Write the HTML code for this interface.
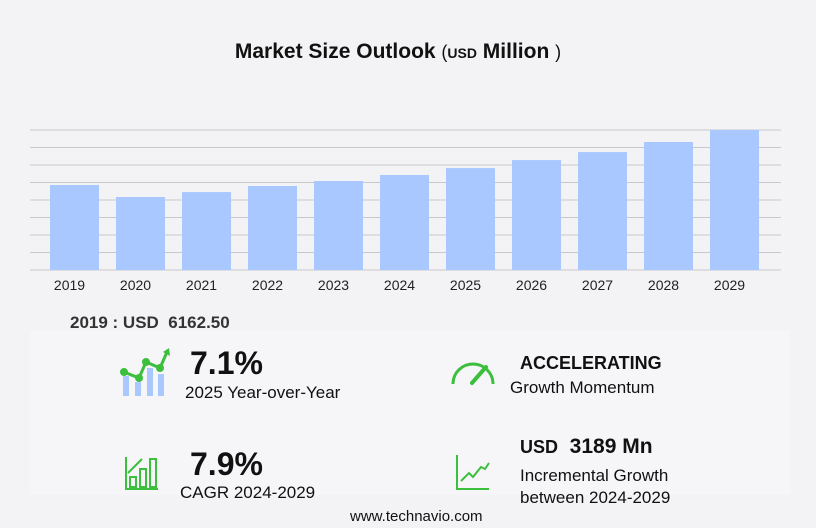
<!DOCTYPE html>
<html><head><meta charset="utf-8"><style>
body{margin:0;width:816px;height:528px;background:#f3f3f5;font-family:"Liberation Sans","DejaVu Sans",sans-serif;position:relative;overflow:hidden;color:#111}
.a{position:absolute;white-space:nowrap}
</style></head><body>
<div class="a" style="left:0;width:796px;text-align:center;top:40px;font-size:21px;font-weight:bold">Market Size Outlook <span style="font-weight:normal;font-size:18px">(</span><span style="font-size:14px">USD</span> Million <span style="font-weight:normal;font-size:18px">)</span></div>
<svg class="a" style="left:0;top:0" width="816" height="300" id="chart"></svg>
<div class="a" style="left:70px;top:313px;font-size:17px;font-weight:bold;color:#333">2019 : USD&nbsp; 6162.50</div>
<div class="a" style="left:30px;top:330px;width:760px;height:165px;background:#f6f6f8"></div>
<svg class="a" style="left:118px;top:348px" width="54" height="50">
<rect x="5" y="28" width="6" height="20" fill="#a8c8ff"/><rect x="17" y="34" width="6" height="14" fill="#a8c8ff"/><rect x="29" y="20" width="6" height="28" fill="#a8c8ff"/><rect x="40" y="26" width="6" height="22" fill="#a8c8ff"/>
<polyline points="6,24 21,30 28,14 42,20 49,4" fill="none" stroke="#3cbf3c" stroke-width="3"/>
<circle cx="6" cy="24" r="4" fill="#3cbf3c"/><circle cx="21" cy="30" r="4" fill="#3cbf3c"/><circle cx="28" cy="14" r="4" fill="#3cbf3c"/><circle cx="42" cy="20" r="4" fill="#3cbf3c"/><polygon points="45,4 51,0 52,8" fill="#3cbf3c"/></svg>
<div class="a" style="left:190px;top:345px;font-size:32px;font-weight:bold">7.1%</div>
<div class="a" style="left:185px;top:383px;font-size:17px">2025 Year-over-Year</div>
<svg class="a" style="left:450px;top:358px" width="46" height="30">
<path d="M3,26 A20,20 0 0 1 43,26" fill="none" stroke="#3cbf3c" stroke-width="3"/><line x1="22" y1="25" x2="36" y2="9" stroke="#3cbf3c" stroke-width="4" stroke-linecap="round"/></svg>
<div class="a" style="left:520px;top:353px;font-size:18px;font-weight:bold">ACCELERATING</div>
<div class="a" style="left:510px;top:378px;font-size:17px">Growth Momentum</div>
<svg class="a" style="left:124px;top:455px" width="36" height="36">
<polyline points="2,2 2,34 34,34" fill="none" stroke="#3cbf3c" stroke-width="2"/><rect x="6" y="22" width="6" height="10" fill="none" stroke="#3cbf3c" stroke-width="2"/><rect x="16" y="14" width="6" height="18" fill="none" stroke="#3cbf3c" stroke-width="2"/><rect x="26" y="4" width="6" height="28" fill="none" stroke="#3cbf3c" stroke-width="2"/><line x1="4" y1="18" x2="18" y2="4" stroke="#3cbf3c" stroke-width="2"/></svg>
<div class="a" style="left:190px;top:446px;font-size:32px;font-weight:bold">7.9%</div>
<div class="a" style="left:180px;top:483px;font-size:17px">CAGR 2024-2029</div>
<svg class="a" style="left:455px;top:455px" width="36" height="36">
<polyline points="2,0 2,34 34,34" fill="none" stroke="#3cbf3c" stroke-width="2"/><polyline points="6,26 14,18 18,22 26,12 30,14 34,8" fill="none" stroke="#3cbf3c" stroke-width="2"/></svg>
<div class="a" style="left:520px;top:435px;font-size:21px;font-weight:bold"><span style="font-size:18px">USD</span>&nbsp; 3189 Mn</div>
<div class="a" style="left:520px;top:465px;font-size:17px;line-height:22px">Incremental Growth<br>between 2024-2029</div>
<div class="a" style="left:350px;top:508px;font-size:15px">www.technavio.com</div>
<script>
const years=["2019","2020","2021","2022","2023","2024","2025","2026","2027","2028","2029"];
const values=[6162.5,5290,5650,6090,6450,6890,7390,7970,8550,9280,10150];
const yMax=10150;
const svg=document.getElementById('chart');const NS='http://www.w3.org/2000/svg';
const y=v=>270-v/yMax*140;const x=i=>50+i*66;
for(let g=0;g<=8;g++){const l=document.createElementNS(NS,'line');const yy=130+g*17.5;
l.setAttribute('x1',30);l.setAttribute('x2',781);l.setAttribute('y1',yy);l.setAttribute('y2',yy);l.setAttribute('stroke','#c8c8cc');l.setAttribute('stroke-width','1');


svg.appendChild(l);}
years.forEach((yr,i)=>{const r=document.createElementNS(NS,'rect');
r.setAttribute('x',x(i));r.setAttribute('width',49);r.setAttribute('y',y(values[i]));r.setAttribute('height',270-y(values[i]));r.setAttribute('fill','#a8c8ff');


svg.appendChild(r);
const t=document.createElementNS(NS,'text');t.setAttribute('x',x(i)+19.5);t.setAttribute('y',290);t.setAttribute('text-anchor','middle');t.setAttribute('font-size','14');t.setAttribute('fill','#222');t.textContent=yr;


svg.appendChild(t);});
</script>
</body></html>
